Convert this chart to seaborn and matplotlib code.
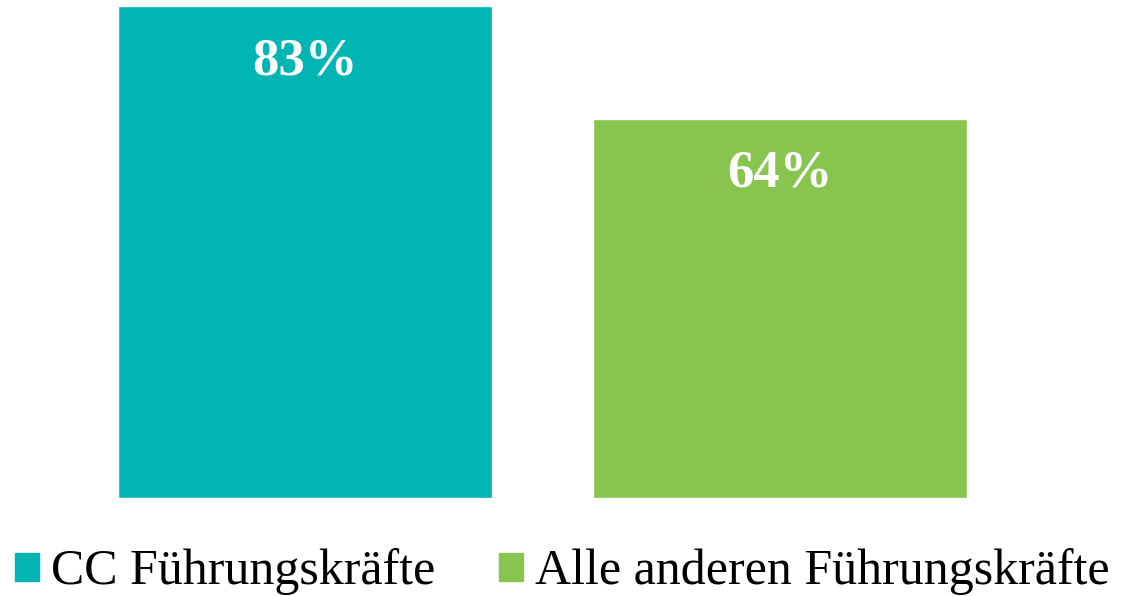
import matplotlib as mpl
mpl.use('agg')
import matplotlib.pyplot as plt
import matplotlib.patches as mpatches
import pandas as pd
import seaborn as sns

# data
groups = ['CC Führungskräfte', 'Alle anderen Führungskräfte']
values = [83, 64]
colors = ['#00B5B3', '#88C54E']

df = pd.DataFrame({'group': groups, 'value': values})

sns.set_style('white')
plt.rcParams['font.family'] = ['Liberation Serif', 'DejaVu Serif']

fig = plt.figure(figsize=(11.24, 5.96), dpi=100)
ax = fig.add_axes([67.5 / 1124, 98 / 596, 950 / 1124, 498 / 596])

sns.barplot(data=df, x='group', y='value', hue='group', palette=colors,
            width=0.787, saturation=1, legend=False, ax=ax)

ax.set_xlim(-0.5, 1.5)
ax.set_ylim(0, 84)
ax.axis('off')

# value labels
for i, v in enumerate(values):
    ax.text(i, v - 9.3, f'{v}%', ha='center', va='center', color='white',
            fontsize=38, fontweight='bold')

# legend
handles = [mpatches.Patch(color=c, label=g) for g, c in zip(groups, colors)]
fig.legend(handles=handles, loc='center', bbox_to_anchor=(0.5, 1 - 572 / 596),
           ncols=2, frameon=False, fontsize=36, handlelength=0.48,
           handleheight=0.48, handletextpad=0.24, columnspacing=1.28,
           labelcolor='black', borderpad=0, borderaxespad=0)

plt.savefig('out.png', dpi=100)
